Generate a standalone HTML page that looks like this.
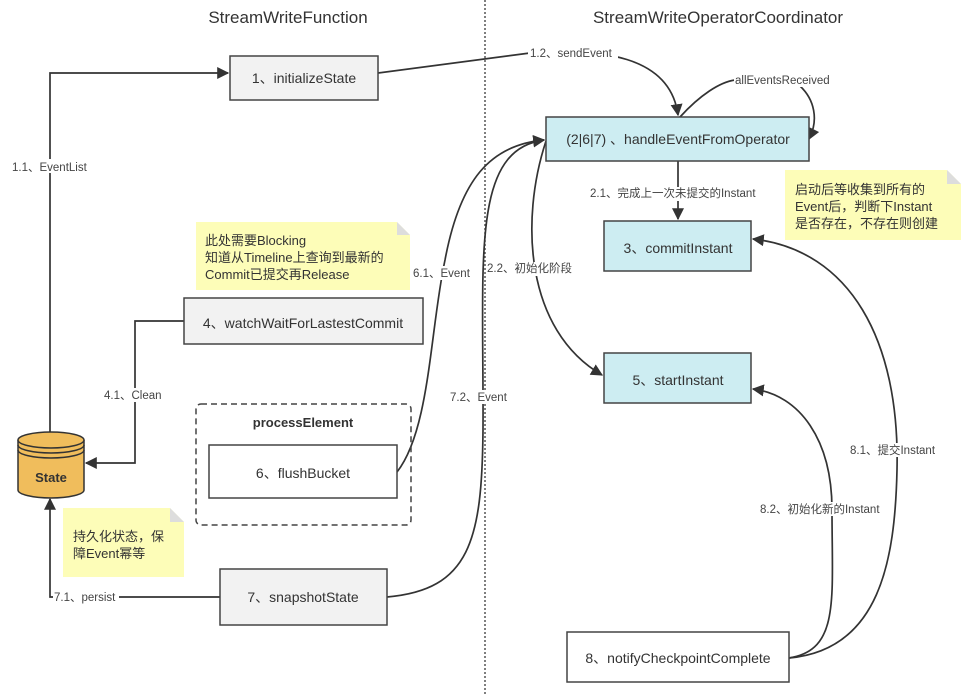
<!DOCTYPE html>
<html><head><meta charset="utf-8"><style>
html,body{margin:0;padding:0;background:#fff;}
svg{display:block;}
text{font-family:"Liberation Sans","Noto Sans CJK SC",sans-serif;}
.lb{font-size:11.5px;fill:#444;}
.bx{font-size:14px;fill:#333;}
</style></head><body>
<svg width="969" height="695" viewBox="0 0 969 695" xmlns="http://www.w3.org/2000/svg">
<defs>
<marker id="a" viewBox="0 0 10 10" refX="9" refY="5" markerWidth="12" markerHeight="12" markerUnits="userSpaceOnUse" orient="auto"><path d="M0,0 L10,5 L0,10 z" fill="#333"/></marker>
</defs>
<line x1="485" y1="0" x2="485" y2="695" stroke="#555" stroke-width="1.5" stroke-dasharray="2,2"/>
<text x="288" y="23" text-anchor="middle" font-size="17" fill="#333">StreamWriteFunction</text>
<text x="718" y="23" text-anchor="middle" font-size="17" fill="#333">StreamWriteOperatorCoordinator</text>

<!-- notes -->
<path d="M196,222 H397 L410,235 V290 H196 Z" fill="#fdfdb8"/><path d="M397,222 L410,235 H397 Z" fill="#ddd"/>
<text x="205" y="245" font-size="13" fill="#333">此处需要Blocking</text>
<text x="205" y="262" font-size="13" fill="#333">知道从Timeline上查询到最新的</text>
<text x="205" y="279" font-size="13" fill="#333">Commit已提交再Release</text>
<path d="M63,508 H170 L184,522 V577 H63 Z" fill="#fdfdb8"/><path d="M170,508 L184,522 H170 Z" fill="#ddd"/>
<text x="73" y="541" font-size="13" fill="#333">持久化状态，保</text>
<text x="73" y="558" font-size="13" fill="#333">障Event幂等</text>
<path d="M785,170 H947 L961,184 V240 H785 Z" fill="#fdfdb8"/><path d="M947,170 L961,184 H947 Z" fill="#ddd"/>
<text x="795" y="194" font-size="13" fill="#333">启动后等收集到所有的</text>
<text x="795" y="211" font-size="13" fill="#333">Event后，判断下Instant</text>
<text x="795" y="228" font-size="13" fill="#333">是否存在，不存在则创建</text>

<g fill="none" stroke="#333" stroke-width="1.7">
<path d="M50,432 V73 H228" marker-end="url(#a)"/>
<path d="M378,73 L530,53 C600,48 670,55 678,115" marker-end="url(#a)"/>
<path d="M680,117 C700,95 720,82 735,80 M800,86 C815,100 818,120 810,137" />
<path d="M810,137 L809,139" marker-end="url(#a)"/>
<path d="M678,161 V219" marker-end="url(#a)"/>
<path d="M546,141 C520,220 525,330 602,375" marker-end="url(#a)"/>
<path d="M397,472 C430,430 430,330 445,260 C460,180 490,145 544,140" marker-end="url(#a)"/>
<path d="M387,597 C470,590 482,540 483,430 C484,260 470,150 544,140" marker-end="url(#a)"/>
<path d="M184,321 H135 V463 H86" marker-end="url(#a)"/>
<path d="M220,597 H50 V499" marker-end="url(#a)"/>
<path d="M789,658 C880,650 895,560 897,470 C900,340 850,250 753,239" marker-end="url(#a)"/>
<path d="M789,658 C840,650 832,600 832,510 C832,440 800,395 753,389" marker-end="url(#a)"/>
</g>

<!-- labels -->
<g class="lb">
<rect x="10" y="159" width="82" height="14" fill="#fff"/><text x="12" y="171">1.1、EventList</text>
<rect x="528" y="45" width="90" height="14" fill="#fff"/><text x="530" y="57">1.2、sendEvent</text>
<rect x="734" y="73" width="102" height="14" fill="#fff"/><text x="735" y="84">allEventsReceived</text>
<rect x="590" y="187" width="176" height="14" fill="#fff"/><text x="590" y="197">2.1、完成上一次未提交的Instant</text>
<rect x="487" y="262" width="94" height="14" fill="#fff"/><text x="487" y="272">2.2、初始化阶段</text>
<rect x="413" y="266" width="60" height="14" fill="#fff"/><text x="413" y="277">6.1、Event</text>
<rect x="450" y="390" width="60" height="14" fill="#fff"/><text x="450" y="401">7.2、Event</text>
<rect x="104" y="388" width="60" height="14" fill="#fff"/><text x="104" y="399">4.1、Clean</text>
<rect x="53" y="590" width="66" height="14" fill="#fff"/><text x="54" y="601">7.1、persist</text>
<rect x="850" y="443" width="92" height="14" fill="#fff"/><text x="850" y="454">8.1、提交Instant</text>
<rect x="760" y="502" width="130" height="14" fill="#fff"/><text x="760" y="513">8.2、初始化新的Instant</text>
</g>

<!-- boxes -->
<g stroke="#444" stroke-width="1.5">
<rect x="230" y="56" width="148" height="44" fill="#f2f2f2"/>
<rect x="546" y="117" width="263" height="44" fill="#cdedf2"/>
<rect x="604" y="221" width="147" height="50" fill="#cdedf2"/>
<rect x="604" y="353" width="147" height="50" fill="#cdedf2"/>
<rect x="184" y="298" width="239" height="46" fill="#f2f2f2"/>
<rect x="196" y="404" width="215" height="121" rx="5" fill="none" stroke-dasharray="6,4"/>
<rect x="209" y="445" width="188" height="53" fill="#fff"/>
<rect x="220" y="569" width="167" height="56" fill="#f2f2f2"/>
<rect x="567" y="632" width="222" height="50" fill="#fff"/>
</g>
<g class="bx" text-anchor="middle">
<text x="304" y="83">1、initializeState</text>
<text x="678" y="144">(2|6|7) 、handleEventFromOperator</text>
<text x="678" y="253">3、commitInstant</text>
<text x="678" y="385">5、startInstant</text>
<text x="303" y="328">4、watchWaitForLastestCommit</text>
<text x="303" y="427" font-weight="bold" font-size="13">processElement</text>
<text x="303" y="478">6、flushBucket</text>
<text x="303" y="602">7、snapshotState</text>
<text x="678" y="663">8、notifyCheckpointComplete</text>
</g>

<!-- State cylinder -->
<g stroke="#333" stroke-width="1.5">
<path d="M18,440 V490 A33,8 0 0 0 84,490 V440" fill="#f0bd5c"/>
<ellipse cx="51" cy="440" rx="33" ry="8" fill="#f0bd5c"/>
<path d="M18,445 A33,8 0 0 0 84,445 M18,450 A33,8 0 0 0 84,450" fill="none"/>
</g>
<text x="51" y="482" text-anchor="middle" font-size="13" font-weight="bold" fill="#333">State</text>
</svg>
</body></html>
